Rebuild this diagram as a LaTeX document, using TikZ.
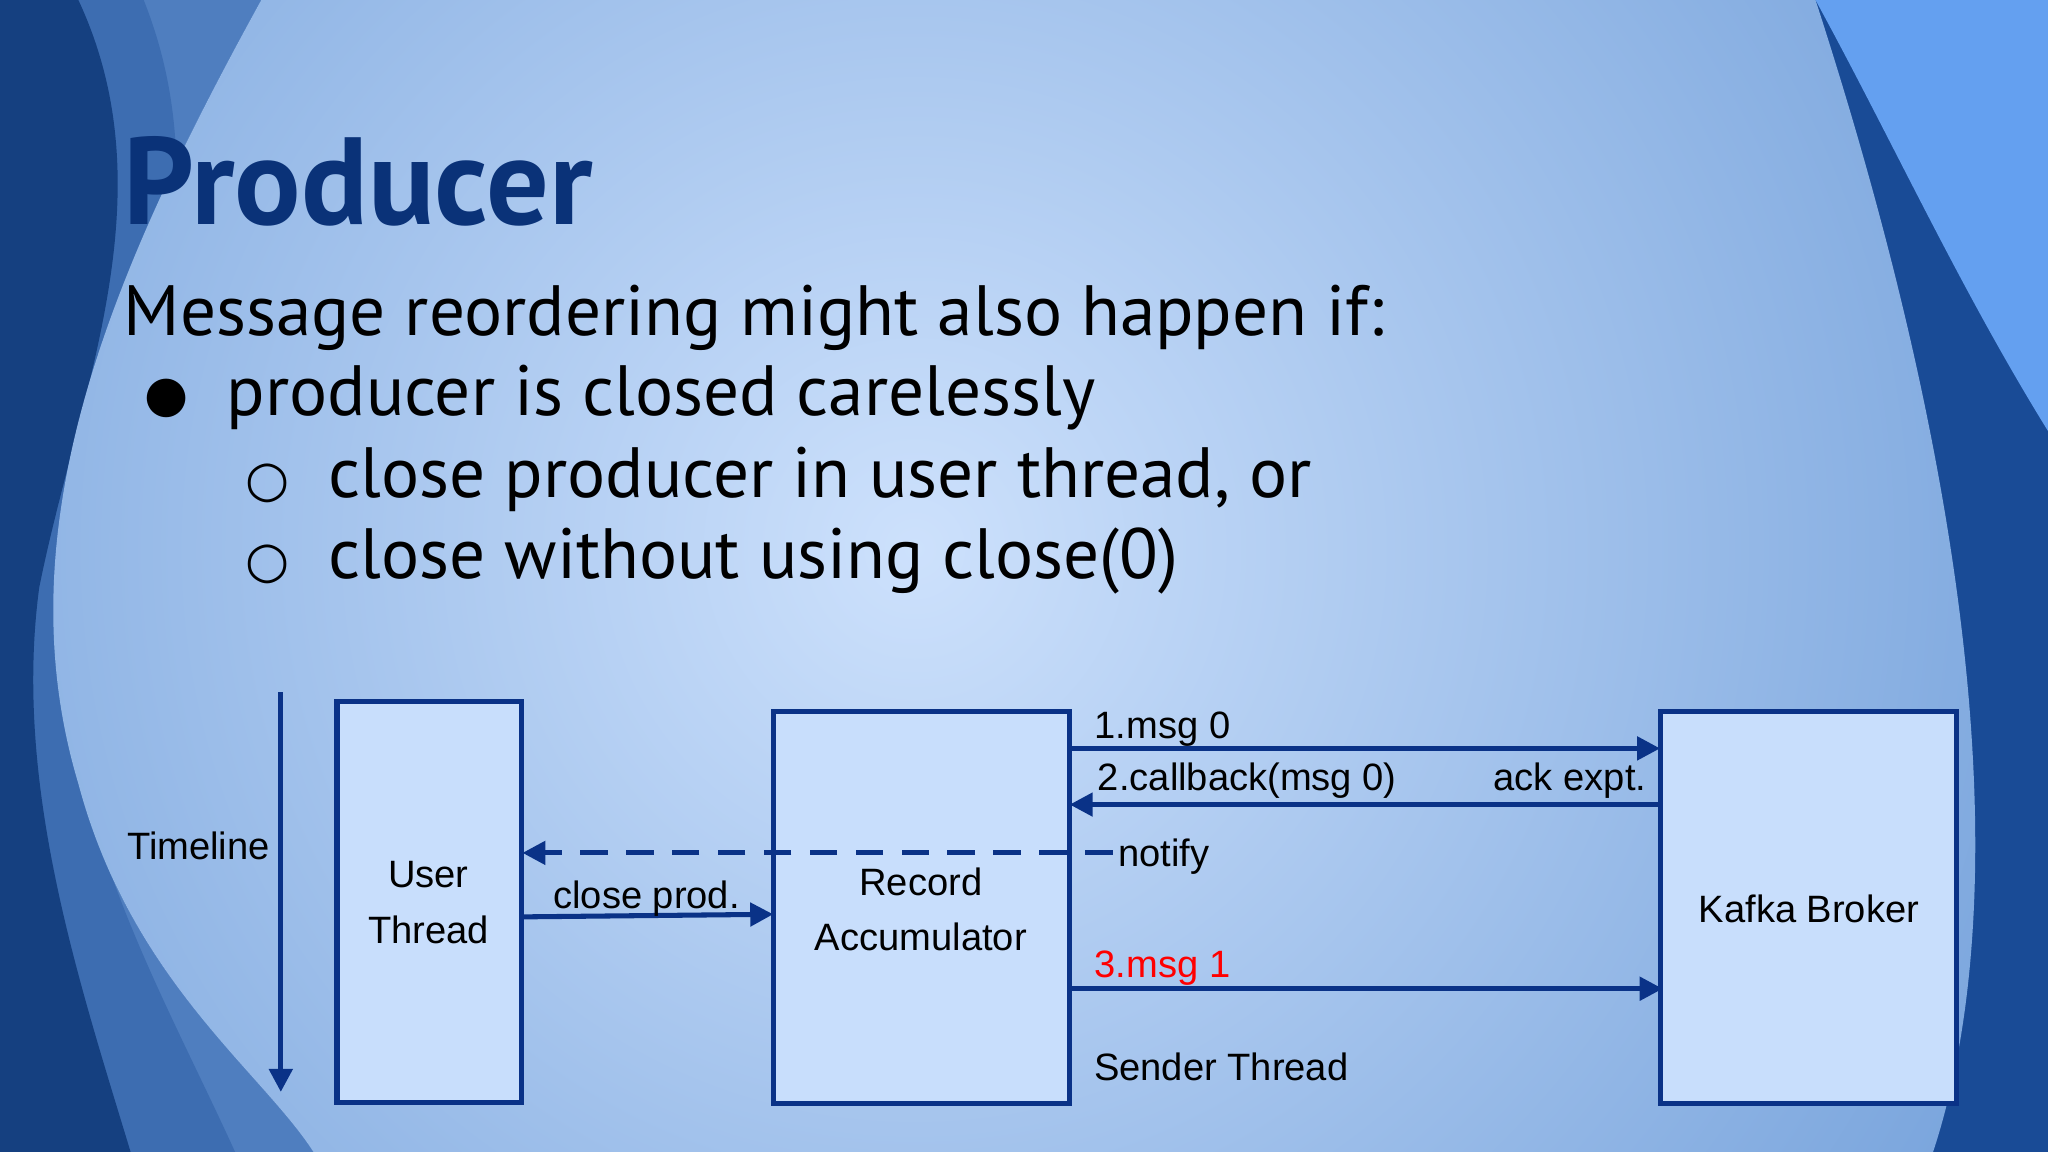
\documentclass[tikz,border=0pt]{standalone}
\usepackage{fontspec}
\setmainfont{PT Sans}
\newfontfamily\djfont{DejaVu Sans}
\newfontfamily\arfont{Liberation Sans}
\usetikzlibrary{arrows.meta}
\definecolor{bgdark}{RGB}{25,75,150}
\definecolor{bgmid}{RGB}{115,160,218}
\definecolor{bglight}{RGB}{205,225,252}
\definecolor{topright}{RGB}{100,160,240}
\definecolor{titleblue}{RGB}{10,50,120}
\definecolor{ln}{RGB}{10,50,135}
\definecolor{boxfill}{RGB}{200,222,252}
\tikzset{
  bx/.style={draw=ln, line width=1.1pt, fill=boxfill},
  lab/.style={font=\arfont\fontsize{8.3}{10}\selectfont, text=black, inner sep=0pt},
  arr/.style={draw=ln, line width=1.1pt, -{Triangle[length=5pt,width=5pt]}},
  body/.style={font=\fontsize{15.5}{19}\selectfont, text=black, anchor=base west, inner sep=0pt}
}
\begin{document}
\begin{tikzpicture}[x=0.01cm,y=-0.01cm]
\useasboundingbox (0,0) rectangle (1568,882);
\fill[bgdark] (0,0) rectangle (1568,882);
\fill[bgmid!60!bgdark] (0,0) -- (200,0) .. controls (90,200) and (0,400) .. (60,600) .. controls (100,750) and (200,820) .. (240,882) -- (0,882) -- cycle;
\fill[bgmid!40!bgdark] (0,0) -- (110,0) .. controls (170,150) and (110,300) .. (60,450) .. controls (30,600) and (120,750) .. (180,882) -- (0,882) -- cycle;
\fill[bgdark!85!black] (0,0) -- (60,0) .. controls (130,150) and (60,300) .. (30,450) .. controls (10,600) and (60,750) .. (100,882) -- (0,882) -- cycle;
\begin{scope}
\clip (200,0) .. controls (90,200) and (0,400) .. (60,600) .. controls (100,750) and (200,820) .. (240,882) -- (1480,882) .. controls (1540,700) and (1520,400) .. (1390,0) -- cycle;
\shade[inner color=bglight, outer color=bgmid] (700,420) circle (1000);
\end{scope}
\fill[topright] (1390,0) -- (1568,0) -- (1568,330) .. controls (1500,220) and (1450,110) .. (1390,0) -- cycle;

\node[font=\bfseries\fontsize{27}{30}\selectfont, text=titleblue, anchor=base west, inner sep=0pt] (title) at (94,172) {Producer};
\node[body] (l1) at (94,257) {Message reordering might also happen if:};
\node[font=\djfont\fontsize{11}{14}\selectfont, anchor=base west, inner sep=0pt] (b1) at (110,315) {●};
\node[body] (l2) at (173,318) {producer is closed carelessly};
\node[font=\djfont\fontsize{11}{14}\selectfont, anchor=base west, inner sep=0pt] (b2) at (187,380) {○};
\node[body] (l3) at (251,381) {close producer in user thread, or};
\node[font=\djfont\fontsize{11}{14}\selectfont, anchor=base west, inner sep=0pt] (b3) at (187,442) {○};
\node[body] (l4) at (251,443) {close without using close(0)};

\coordinate (t1) at (215,530); \coordinate (t2) at (215,836);
\draw[arr] (t1) -- (t2);
\node[lab] (tl) at (152,648) {Timeline};

\draw[bx] (258,537) rectangle (399,844);
\node[lab, align=center] (ut) at (328,691) {User\\[2pt]Thread};
\draw[bx] (592,545) rectangle (819,845);
\node[lab, align=center] (ra) at (705,696) {Record\\[2pt]Accumulator};
\draw[bx] (1271,545) rectangle (1498,845);
\node[lab] (kb) at (1385,696) {Kafka Broker};

\coordinate (cp1) at (399,702); \coordinate (cp2) at (592,700);
\draw[arr] (cp1) -- (cp2);
\node[lab] (cpl) at (495,688) {close prod.};

\coordinate (n1) at (852,653); \coordinate (n2) at (400,653);
\draw[arr, dash pattern=on 6pt off 4pt] (n1) -- (n2);
\node[lab] (nl) at (891,656) {notify};

\coordinate (m1) at (819,573); \coordinate (m2) at (1271,573);
\draw[arr] (m1) -- (m2);
\node[lab] (ml) at (890,558) {1.msg 0};

\coordinate (c1) at (1273,616); \coordinate (c2) at (819,616);
\draw[arr] (c1) -- (c2);
\node[lab] (cl) at (955,598) {2.callback(msg 0)};
\node[lab] (ae) at (1202,598) {ack expt.};

\coordinate (r1) at (819,757); \coordinate (r2) at (1273,757);
\draw[arr] (r1) -- (r2);
\node[lab, text=red] (rl) at (890,741) {3.msg 1};
\node[lab] (st) at (935,817) {Sender Thread};
\end{tikzpicture}
\end{document}
